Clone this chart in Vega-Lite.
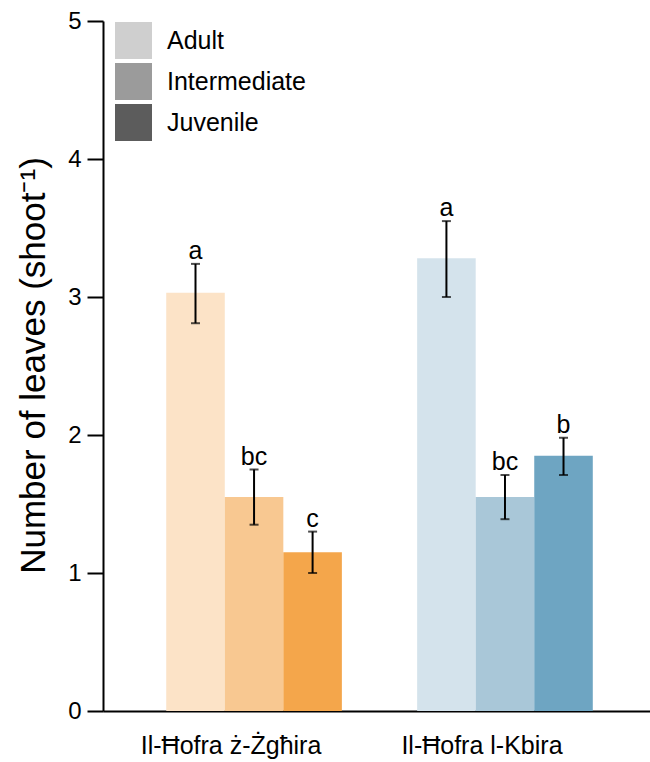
{
  "$schema": "https://vega.github.io/schema/vega-lite/v6.json",
  "autosize": {"type": "none"},
  "padding": {"left": 103, "top": 21, "right": 0, "bottom": 51},
  "width": 547,
  "height": 690,
  "config": {
    "view": {"stroke": null},
    "font": "Liberation Sans",
    "axis": {"labelFont": "Liberation Sans", "titleFont": "Liberation Sans", "labelColor": "#000", "titleColor": "#000"},
    "legend": {"labelFont": "Liberation Sans"}
  },
  "data": {
    "values": [
      {"site": "Il-Ħofra ż-Żgħira", "stage": "Adult", "key": "Z-Adult", "mean": 3.03, "lo": 2.81, "hi": 3.24, "letter": "a"},
      {"site": "Il-Ħofra ż-Żgħira", "stage": "Intermediate", "key": "Z-Intermediate", "mean": 1.55, "lo": 1.35, "hi": 1.75, "letter": "bc"},
      {"site": "Il-Ħofra ż-Żgħira", "stage": "Juvenile", "key": "Z-Juvenile", "mean": 1.15, "lo": 1.0, "hi": 1.3, "letter": "c"},
      {"site": "Il-Ħofra l-Kbira", "stage": "Adult", "key": "K-Adult", "mean": 3.28, "lo": 3.0, "hi": 3.55, "letter": "a"},
      {"site": "Il-Ħofra l-Kbira", "stage": "Intermediate", "key": "K-Intermediate", "mean": 1.55, "lo": 1.39, "hi": 1.71, "letter": "bc"},
      {"site": "Il-Ħofra l-Kbira", "stage": "Juvenile", "key": "K-Juvenile", "mean": 1.85, "lo": 1.71, "hi": 1.98, "letter": "b"}
    ]
  },
  "encoding": {
    "x": {
      "field": "site", "type": "nominal",
      "sort": ["Il-Ħofra ż-Żgħira", "Il-Ħofra l-Kbira"],
      "scale": {"paddingInner": 0.3, "paddingOuter": 0.24, "align": 0.525},
      "axis": {
        "title": null, "ticks": false, "tickSize": 0, "labelAngle": 0,
        "labelFontSize": 25, "labelPadding": 42, "labelBaseline": "alphabetic",
        "labelOffset": -23, "labelLimit": 0,
        "domainColor": "#000", "domainWidth": 2
      }
    },
    "xOffset": {
      "field": "stage", "type": "nominal",
      "sort": ["Adult", "Intermediate", "Juvenile"],
      "scale": {"paddingInner": 0, "paddingOuter": 0}
    }
  },
  "layer": [
    {
      "mark": {"type": "bar"},
      "encoding": {
        "y": {"datum": 0, "type": "quantitative", "scale": {"domain": [0, 5], "nice": false}},
        "fill": {
          "field": "stage", "type": "nominal",
          "sort": ["Adult", "Intermediate", "Juvenile"],
          "scale": {"domain": ["Adult", "Intermediate", "Juvenile"], "range": ["#cfcfcf", "#9b9b9b", "#5c5c5c"]},
          "legend": {
            "title": null, "orient": "none", "legendX": 12, "legendY": 1,
            "symbolType": "square", "symbolSize": 1369, "symbolStrokeWidth": 0, "symbolOpacity": 1,
            "labelFontSize": 25, "labelColor": "#000", "labelOffset": 15, "rowPadding": 4, "padding": 0
          }
        }
      }
    },
    {
      "mark": {"type": "bar"},
      "encoding": {
        "y": {
          "field": "mean", "type": "quantitative",
          "scale": {"domain": [0, 5], "nice": false},
          "axis": {
            "values": [0, 1, 2, 3, 4, 5], "format": "d", "grid": false,
            "title": "Number of leaves (shoot⁻¹)", "titleFontSize": 35, "titleFontWeight": "normal",
            "titleAngle": 270, "titleAlign": "center", "titleBaseline": "alphabetic",
            "titleX": -59, "titleY": 344,
            "labelFontSize": 24, "labelPadding": 6,
            "tickSize": 16, "tickWidth": 2, "tickColor": "#000",
            "domainColor": "#000", "domainWidth": 2
          }
        },
        "color": {
          "field": "key", "type": "nominal", "legend": null,
          "scale": {
            "domain": ["Z-Adult", "Z-Intermediate", "Z-Juvenile", "K-Adult", "K-Intermediate", "K-Juvenile"],
            "range": ["#fce3c7", "#f8c891", "#f4a64b", "#d4e3ec", "#a9c7d8", "#6ea5c2"]
          }
        }
      }
    },
    {
      "mark": {"type": "rule", "color": "#000", "strokeWidth": 2},
      "encoding": {
        "y": {"field": "lo", "type": "quantitative"},
        "y2": {"field": "hi"}
      }
    },
    {
      "mark": {"type": "tick", "color": "#000", "size": 9, "thickness": 2},
      "encoding": {"y": {"field": "lo", "type": "quantitative"}}
    },
    {
      "mark": {"type": "tick", "color": "#000", "size": 9, "thickness": 2},
      "encoding": {"y": {"field": "hi", "type": "quantitative"}}
    },
    {
      "mark": {"type": "text", "baseline": "alphabetic", "dy": -5, "fontSize": 25, "color": "#000"},
      "encoding": {
        "y": {"field": "hi", "type": "quantitative"},
        "text": {"field": "letter"}
      }
    }
  ],
  "resolve": {"scale": {"color": "independent", "fill": "independent"}}
}
